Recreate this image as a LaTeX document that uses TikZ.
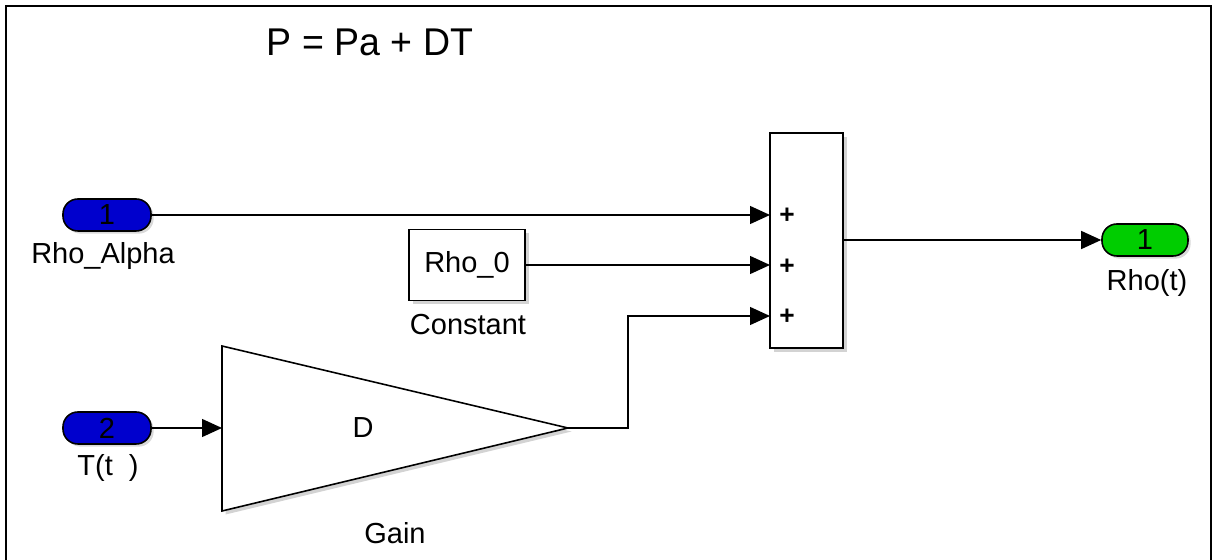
\documentclass[tikz,border=0pt]{standalone}
\usepackage{fontspec}
\setmainfont{Liberation Sans}
\usetikzlibrary{arrows.meta,shadows}
\definecolor{inblue}{RGB}{0,0,205}
\definecolor{outgreen}{RGB}{0,205,0}
\newlength{\px}
\setlength{\px}{0.02cm}
\tikzset{
  blk/.style={draw=black,line width=0.9pt,fill=white,inner sep=0pt,
    drop shadow={shadow xshift=2pt,shadow yshift=-2pt,opacity=0.35,fill=gray}},
  port/.style={draw=black,line width=0.9pt,rounded corners=8.5pt,inner sep=0pt,
    minimum width=88\px,minimum height=32\px,font=\fontsize{16.5}{16.5}\selectfont,
    drop shadow={shadow xshift=1.5pt,shadow yshift=-1.5pt,opacity=0.3,fill=gray}},
  lbl/.style={font=\fontsize{16.5}{17}\selectfont,inner sep=0pt},
  plus/.style={font=\bfseries\fontsize{15}{15}\selectfont,inner sep=0pt},
  sig/.style={line width=0.75pt,-{Triangle[length=0.4cm,width=0.36cm]}},
}
\begin{document}
\begin{tikzpicture}[x=0.02cm,y=-0.02cm]
\useasboundingbox (0,0) rectangle (1215,560);
% frame
\draw[line width=1.2pt] (6,562) -- (6,6) -- (1211,6) -- (1211,562);
% title
\node[font=\fontsize{22}{22}\selectfont,inner sep=0pt,xscale=0.97] (title) at (370,42) {P = Pa + DT};
% ports
\node[port,fill=inblue] (in1) at (107,215) {1};
\node[lbl] (in1l) at (103,256) {Rho\_Alpha};
\node[port,fill=inblue] (in2) at (107,428) {2};
\node[lbl] (in2l) at (108,468) {T(t\ \ )};
\node[port,fill=outgreen,minimum width=86\px] (out1) at (1145,240) {1};
\node[lbl] (out1l) at (1147,283) {Rho(t)};
% constant
\node[blk,minimum width=116\px,minimum height=71\px,font=\fontsize{16.5}{16.5}\selectfont] (const) at (467,265) {Rho\_0};
\node[lbl] (constl) at (468,325) {Constant};
% sum
\node[blk,minimum width=73\px,minimum height=215\px] (sum) at (806.5,240.5) {};
\coordinate (s1) at (770,215);
\coordinate (s2) at (770,265);
\coordinate (s3) at (770,316);
\coordinate (sout) at (843,240);
\node[plus] (p1) at (787,216) {+};
\node[plus] (p2) at (787,267) {+};
\node[plus] (p3) at (787,317) {+};
% gain
\draw[line width=0.9pt,fill=white,drop shadow={shadow xshift=2pt,shadow yshift=-2pt,opacity=0.35,fill=gray}]
  (222,346) -- (568,428) -- (222,511) -- cycle;
\coordinate (gin) at (222,428);
\coordinate (gout) at (568,428);
\node[lbl] (gD) at (363,428) {D};
\node[lbl] (gl) at (395,533) {Gain};
% connectors
\draw[sig] (in1.east) -- (s1);
\draw[sig] (const.east) -- (s2);
\draw[sig] (gout) -- (628,428) -- (628,316) -- (s3);
\draw[sig] (in2.east) -- (gin);
\draw[sig] (sout) -- (out1.west);
\end{tikzpicture}
\end{document}
